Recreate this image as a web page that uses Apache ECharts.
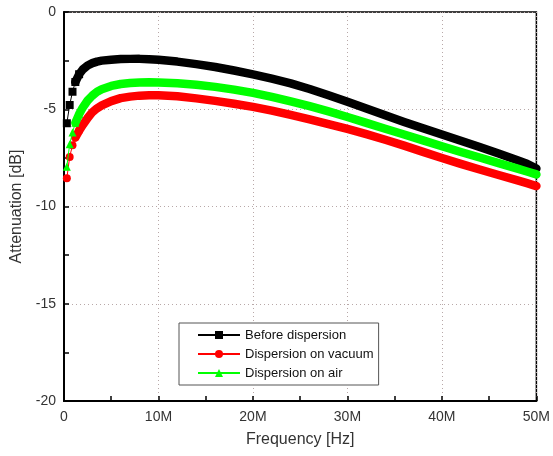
<!DOCTYPE html>
<html>
<head>
<meta charset="utf-8">
<script src="https://cdn.jsdelivr.net/npm/echarts@6/dist/echarts.min.js"></script>
<style>
html,body{margin:0;padding:0;background:#fff;}
#chart{width:553px;height:456px;}
</style>
</head>
<body>
<div id="chart"></div>
<script>
// Frequency in MHz
const freq = [0.3, 0.6, 0.9, 1.2, 1.6, 2, 2.5, 3, 3.5, 4, 5, 6, 7, 8, 9, 10, 12, 14, 16, 18, 20, 22, 24, 26, 28, 30, 32, 34, 36, 38, 40, 42, 44, 46, 48, 49, 50];
// Attenuation in dB
const beforeDispersion = [-5.72, -4.78, -4.1, -3.6, -3.2, -2.95, -2.75, -2.63, -2.55, -2.5, -2.45, -2.42, -2.41, -2.41, -2.43, -2.46, -2.55, -2.68, -2.83, -3.01, -3.21, -3.43, -3.67, -3.96, -4.28, -4.62, -4.96, -5.31, -5.65, -5.98, -6.3, -6.62, -6.94, -7.27, -7.62, -7.8, -8.05];
const dispersionVacuum = [-8.55, -7.45, -6.85, -6.45, -6.1, -5.8, -5.45, -5.15, -4.95, -4.8, -4.58, -4.43, -4.35, -4.3, -4.28, -4.28, -4.33, -4.44, -4.57, -4.72, -4.88, -5.07, -5.29, -5.52, -5.76, -6.01, -6.28, -6.57, -6.87, -7.19, -7.51, -7.81, -8.1, -8.38, -8.66, -8.8, -8.95];
const dispersionAir = [-7.95, -6.8, -6.2, -5.7, -5.25, -4.9, -4.55, -4.3, -4.1, -3.97, -3.8, -3.7, -3.65, -3.62, -3.61, -3.62, -3.66, -3.74, -3.85, -3.99, -4.16, -4.36, -4.59, -4.84, -5.11, -5.4, -5.7, -6.0, -6.3, -6.6, -6.9, -7.2, -7.48, -7.77, -8.05, -8.2, -8.35];
const xTicks = [0, 10, 20, 30, 40, 50];
const yTicks = [0, -5, -10, -15, -20];
const seriesNames = ['Before dispersion', 'Dispersion on vacuum', 'Dispersion on air'];

const seriesValues = [beforeDispersion, dispersionVacuum, dispersionAir];
const colors = ['#000000', '#ff0000', '#00ff00'];
const symbols = ['rect', 'circle', 'triangle'];
const bandStart = 3;

function pairs(vals, start) {
  const out = [];
  for (let i = start; i < freq.length; i++) out.push([freq[i], vals[i]]);
  return out;
}

const series = [];
seriesValues.forEach((vals, k) => {
  series.push({
    name: seriesNames[k] + ' band',
    type: 'line',
    data: pairs(vals, bandStart),
    symbol: 'none',
    lineStyle: { color: colors[k], width: 8.5, cap: 'round', join: 'round' },
    itemStyle: { color: colors[k] },
    z: 2 + k,
    silent: true
  });
  series.push({
    name: seriesNames[k],
    type: 'line',
    data: pairs(vals, 0).slice(0, bandStart + 2),
    symbol: symbols[k],
    symbolSize: 8,
    showAllSymbol: true,
    lineStyle: { color: colors[k], width: 1 },
    itemStyle: { color: colors[k] },
    z: 2 + k
  });
});

const font = 'Liberation Sans, Arial, sans-serif';
const chart = echarts.init(document.getElementById('chart'), null, { renderer: 'canvas' });
chart.setOption({
  animation: false,
  backgroundColor: '#fff',
  grid: { left: 64, right: 16, top: 12, bottom: 55, show: true, borderColor: '#000', borderWidth: 1.5, backgroundColor: 'transparent' },
  legend: {
    data: seriesNames,
    orient: 'vertical',
    left: 179,
    top: 323,
    itemWidth: 42,
    itemHeight: 10,
    itemGap: 5,
    padding: [5, 5, 5, 18],
    borderColor: '#555',
    borderWidth: 1,
    backgroundColor: '#fff',
    textStyle: { fontFamily: font, fontSize: 13, color: '#111', lineHeight: 14 }
  },
  xAxis: {
    type: 'value',
    min: xTicks[0],
    max: xTicks[xTicks.length - 1],
    interval: 10,
    name: 'Frequency [Hz]',
    nameLocation: 'middle',
    nameGap: 31,
    nameTextStyle: { fontFamily: font, fontSize: 16, color: '#333' },
    axisLine: { show: true, onZero: false, lineStyle: { color: '#000', width: 2 } },
    axisTick: { show: true, inside: true, length: 5, lineStyle: { color: '#000', width: 1.5 } },
    minorTick: { show: true, splitNumber: 2, length: 5, lineStyle: { color: '#000', width: 1.5 } },
    axisLabel: { fontFamily: font, fontSize: 14, color: '#333', margin: 9, formatter: v => v === 0 ? '0' : v + 'M' },
    splitLine: { show: true, lineStyle: { color: '#b8a8a8', type: [1, 3], width: 1 } }
  },
  yAxis: {
    type: 'value',
    min: yTicks[yTicks.length - 1],
    max: yTicks[0],
    interval: 5,
    name: 'Attenuation [dB]',
    nameLocation: 'middle',
    nameGap: 30,
    nameTextStyle: { fontFamily: font, fontSize: 16, color: '#333' },
    axisLine: { show: true, onZero: false, lineStyle: { color: '#000', width: 2 } },
    axisTick: { show: true, inside: true, length: 5, lineStyle: { color: '#000', width: 1.5 } },
    minorTick: { show: true, splitNumber: 2, length: 5, lineStyle: { color: '#000', width: 1.5 } },
    axisLabel: { fontFamily: font, fontSize: 14, color: '#333', margin: 8 },
    splitLine: { show: true, lineStyle: { color: '#b8a8a8', type: [1, 3], width: 1 } }
  },
  series: series
});
</script>
</body>
</html>
